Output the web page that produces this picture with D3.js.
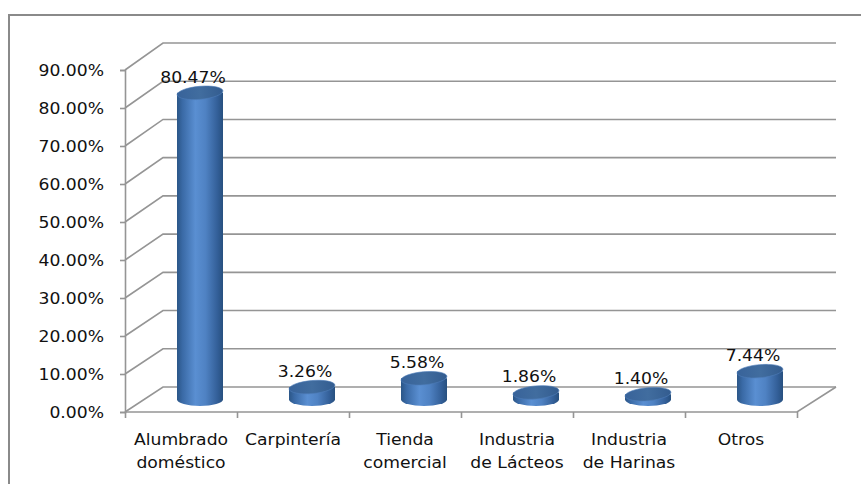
<!DOCTYPE html>
<html>
<head>
<meta charset="utf-8">
<script src="https://cdn.jsdelivr.net/npm/d3@7"></script>
<style>
  html, body { margin: 0; padding: 0; background: #fff; }
  svg { display: block; }
  text { font-family: "DejaVu Sans", Verdana, sans-serif; fill: #111; }
</style>
</head>
<body>
<svg id="chart" width="861" height="484"></svg>
<script>
// Share of electricity use by sector
const categories = [
  ["Alumbrado", "doméstico"],
  ["Carpintería"],
  ["Tienda", "comercial"],
  ["Industria", "de Lácteos"],
  ["Industria", "de Harinas"],
  ["Otros"]
];
const values = [80.47, 3.26, 5.58, 1.86, 1.40, 7.44];
const yTicks = [0, 10, 20, 30, 40, 50, 60, 70, 80, 90];

const svg = d3.select("#chart");
const FONT = 15.5, SX = 1.11;   // wide, slightly stretched lettering

// outer frame
svg.append("rect")
  .attr("x", 9).attr("y", 15).attr("width", 880).attr("height", 500)
  .attr("fill", "none").attr("stroke", "#8a8a8a").attr("stroke-width", 2);

// 3D box: front plane and back wall, offset in depth
const x0 = 125, x1 = 797, depthX = 38, backRight = 836;
const yFront = d3.scaleLinear().domain([0, 90]).range([412, 70]);
const yBack  = d3.scaleLinear().domain([0, 90]).range([387, 43]);
const yAt = (v, t) => yFront(v) * (1 - t) + yBack(v) * t;

const xBand = d3.scaleBand().domain(d3.range(categories.length)).range([x0, x1]).padding(0);
const xEdge = d3.scaleLinear().domain([0, categories.length]).range([x0, x1]);

const grid = svg.append("g")
  .attr("fill", "none").attr("stroke", "#959595").attr("stroke-width", 1.6);

// side wall diagonals + back wall gridlines
yTicks.forEach(v => {
  grid.append("path")
    .attr("d", `M${x0},${yFront(v)}L${x0 + depthX},${yBack(v)}H${backRight}`);
});
// floor: front edge and right diagonal
grid.append("path")
  .attr("d", `M${x0},${yFront(0)}H${x1}L${backRight},${yBack(0)}`);

// value axis on the front plane
const yAxis = svg.append("g")
  .attr("transform", `translate(${x0},0)`)
  .call(d3.axisLeft(yFront).tickValues(yTicks).tickSize(5)
        .tickFormat(d => d.toFixed(2) + "%"));
yAxis.select(".domain").attr("stroke", "#959595").attr("stroke-width", 1.6);
yAxis.selectAll(".tick line").attr("stroke", "#959595").attr("stroke-width", 1.6);
yAxis.selectAll(".tick text")
  .attr("x", -21 / SX).attr("dy", "0.36em")
  .attr("transform", `scale(${SX},1)`)
  .style("font-size", FONT + "px").style("font-family", "DejaVu Sans, sans-serif")
  .attr("fill", "#111");

// category axis ticks along the front floor edge
const xAxis = svg.append("g")
  .attr("transform", `translate(0,${yFront(0)})`)
  .call(d3.axisBottom(xEdge).tickValues(d3.range(categories.length + 1))
        .tickSize(6).tickFormat(""));
xAxis.select(".domain").remove();
xAxis.selectAll(".tick line").attr("stroke", "#959595").attr("stroke-width", 1.6);

// category labels
categories.forEach((lines, i) => {
  const cx = xBand(i) + xBand.bandwidth() / 2;
  lines.forEach((ln, k) => {
    svg.append("text")
      .attr("transform", `translate(${cx},${445 + k * 23}) scale(${SX},1)`)
      .attr("text-anchor", "middle")
      .style("font-size", FONT + "px")
      .text(ln);
  });
});

// cylinder shading
const defs = svg.append("defs");
const body = defs.append("linearGradient").attr("id", "cylBody")
  .attr("x1", "0%").attr("x2", "100%").attr("y1", "0%").attr("y2", "0%");
[["0%", "#2b5687"], ["12%", "#3a6aa6"], ["40%", "#5a8fd2"], ["62%", "#4f82c3"],
 ["88%", "#335f98"], ["100%", "#27507f"]]
  .forEach(([o, c]) => body.append("stop").attr("offset", o).attr("stop-color", c));
const cap = defs.append("linearGradient").attr("id", "cylTop")
  .attr("x1", "0%").attr("x2", "100%").attr("y1", "0%").attr("y2", "0%");
[["0%", "#38639a"], ["50%", "#416d9f"], ["100%", "#335c8f"]]
  .forEach(([o, c]) => cap.append("stop").attr("offset", o).attr("stop-color", c));

const rx = 23, ry = 6.5, tMid = 0.5, tilt = -5;
const bars = svg.append("g");
values.forEach((v, i) => {
  const cx = xBand(i) + xBand.bandwidth() / 2 + depthX * tMid;
  const yb = yAt(0, tMid), yt = yAt(v, tMid);
  bars.append("path")
    .attr("d", `M${cx - rx},${yt}L${cx - rx},${yb}A${rx},${ry} 0 0 0 ${cx + rx},${yb}L${cx + rx},${yt}Z`)
    .attr("fill", "url(#cylBody)");
  bars.append("ellipse")
    .attr("cx", cx).attr("cy", yt).attr("rx", rx).attr("ry", ry)
    .attr("transform", `rotate(${tilt},${cx},${yt})`)
    .attr("fill", "url(#cylTop)")
    .attr("stroke", "#4d7cb8").attr("stroke-width", 0.6);
  // value label
  svg.append("text")
    .attr("transform", `translate(${cx - 7},${yt - 10}) scale(${SX},1)`)
    .attr("text-anchor", "middle")
    .style("font-size", FONT + "px")
    .text(v.toFixed(2) + "%");
});
</script>
</body>
</html>
